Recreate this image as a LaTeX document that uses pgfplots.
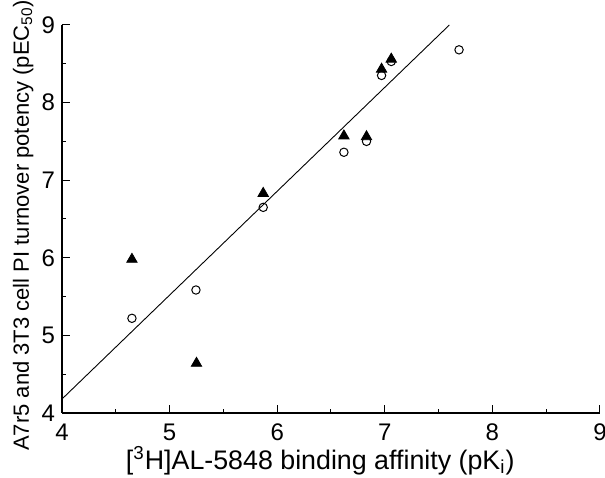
\documentclass[border=0pt]{standalone}
\usepackage{fontspec}
\setmainfont{Liberation Sans}
\usepackage{pgfplots}
\pgfplotsset{compat=1.18}
\usetikzlibrary{calc}

\begin{document}
\begin{tikzpicture}
\begin{axis}[
  scale only axis,
  width=269pt, height=194pt,
  xmin=4, xmax=9, ymin=4, ymax=9,
  axis lines=left,
  axis line style={-, line width=0.6pt},
  xtick={4,...,9}, ytick={4,...,9},
  minor x tick num=1, minor y tick num=1,
  tick align=inside,
  major tick length=4pt, minor tick length=2pt,
  tick style={line width=0.5pt, black},
  font=\fontsize{12}{14}\selectfont,
  /pgf/number format/assume math mode=true,
  xticklabel style={yshift=-2pt},
  xlabel={[\textsuperscript{3}H]AL-5848 binding affinity (pK\textsubscript{i})},
  ylabel={A7r5 and 3T3 cell PI turnover potency (pEC\textsubscript{50})},
  xlabel style={font=\fontsize{13.4}{15}\selectfont, at={(axis description cs:0.48,0)}, anchor=north, yshift=-13pt},
  ylabel style={font=\fontsize{11}{13}\selectfont, at={(axis description cs:-0.072,0.484)}, anchor=center},
  clip=false,
]
  % fitted regression line
  \addplot[black, line width=0.45pt] coordinates {(4,4.18) (7.60,9.0)};
  % open circles
  \addplot[only marks, mark=o, mark size=2.1pt, mark options={fill=white, line width=0.5pt}]
    coordinates {(4.65,5.22) (5.245,5.585) (5.87,6.65) (6.62,7.36) (6.83,7.50)
                 (6.97,8.35) (7.06,8.53) (7.69,8.68)};
  % filled triangles
  \addplot[only marks, mark=triangle*, mark size=3pt, mark options={fill=black}]
    coordinates {(4.65,5.98) (5.25,4.64) (5.87,6.83) (6.62,7.57) (6.83,7.56)
                 (6.97,8.43) (7.06,8.56)};
  \coordinate (sw) at (rel axis cs:0,0);
  \coordinate (ne) at (rel axis cs:1,1);
\end{axis}
\pgfresetboundingbox
\path ($(sw)+(-31pt,-32.5pt)$) rectangle ($(ne)+(2.5pt,12.5pt)$);
\end{tikzpicture}
\end{document}
